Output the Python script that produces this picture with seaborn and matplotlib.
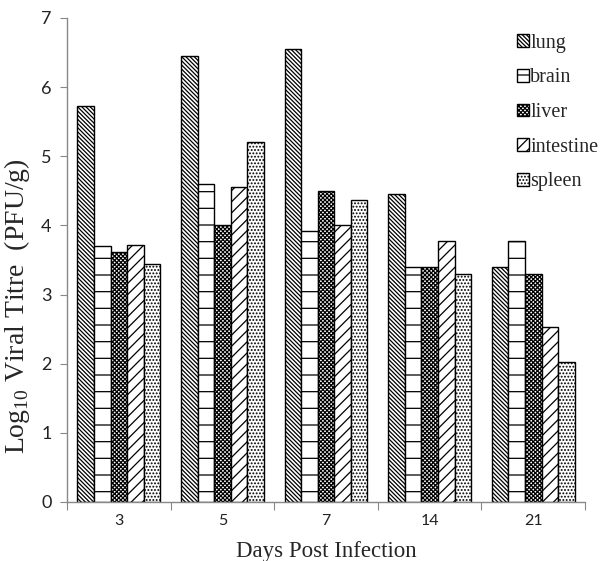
import matplotlib
matplotlib.use("Agg")
import matplotlib.pyplot as plt
from matplotlib.patches import Patch
import seaborn as sns
import pandas as pd

days = ["3", "5", "7", "14", "21"]
organs = ["lung", "brain", "liver", "intestine", "spleen"]
lung = [5.72, 6.45, 6.55, 4.45, 3.40]
brain = [3.70, 4.60, 3.92, 3.40, 3.77]
liver = [3.62, 4.00, 4.50, 3.40, 3.30]
intestine = [3.72, 4.55, 4.00, 3.77, 2.53]
spleen = [3.44, 5.20, 4.37, 3.30, 2.03]
yticks = [0, 1, 2, 3, 4, 5, 6, 7]

series = {"lung": lung, "brain": brain, "liver": liver,
          "intestine": intestine, "spleen": spleen}
rows = []
for org in organs:
    for d, v in zip(days, series[org]):
        rows.append({"day": d, "organ": org, "titre": v})
df = pd.DataFrame(rows)

sns.set_style("white")
plt.rcParams["font.family"] = ["Liberation Serif", "DejaVu Serif"]
plt.rcParams["mathtext.fontset"] = "custom"
plt.rcParams["mathtext.rm"] = "Liberation Serif"
plt.rcParams["hatch.linewidth"] = 0.9

hatches = ["\\" * 8, "-", "x" * 8, "///", "." * 5]

fig = plt.figure(figsize=(6.12, 5.61), dpi=100)
ax = fig.add_axes([0.1095, 0.1052, 0.8465, 0.8628])
sns.barplot(data=df, x="day", y="titre", hue="organ", order=days,
            hue_order=organs, ax=ax, palette=["white"] * 5,
            edgecolor="black", linewidth=1.0, width=0.8, legend=False)

for cont, h in zip(ax.containers, hatches):
    for bar in cont:
        bar.set_hatch(h)
        bar.set_edgecolor("black")
        bar.set_facecolor("white")

ax.set_xlim(-0.5, 4.5)
ax.set_ylim(0, 7)
ax.set_yticks(yticks)
ax.set_yticklabels([str(t) for t in yticks], family="Lato", fontsize=13, color="#222222")
ax.set_xticks([-0.5, 0.5, 1.5, 2.5, 3.5, 4.5])
ax.set_xticklabels([])
ax.set_xticks(range(5), minor=True)
ax.set_xticklabels(days, minor=True, family="Lato", fontsize=11.5, color="#222222")
ax.tick_params(axis="x", which="major", direction="out", length=6, color="#888888", bottom=True)
ax.tick_params(axis="x", which="minor", length=0, pad=9, bottom=True)
ax.tick_params(axis="y", direction="out", length=5, color="#888888", left=True, pad=6)

for s in ["top", "right"]:
    ax.spines[s].set_visible(False)
for s in ["left", "bottom"]:
    ax.spines[s].set_color("#888888")
    ax.spines[s].set_linewidth(1.0)

ax.set_xlabel("Days Post Infection", fontsize=16.5, labelpad=9)
ax.set_ylabel(r"Log$_{10}$ Viral Titre  (PFU/g)", fontsize=20)
ax.yaxis.set_label_coords(-0.068, 0.405)

handles = [Patch(facecolor="white", edgecolor="black", hatch=h, label=o)
           for o, h in zip(organs, hatches)]
ax.legend(handles=handles, loc="upper left", bbox_to_anchor=(0.845, 0.94),
          bbox_transform=fig.transFigure, frameon=False, fontsize=14.5,
          handlelength=0.6, handleheight=0.6, handletextpad=0.05, labelspacing=0.78,
          borderaxespad=0, borderpad=0)

fig.savefig("out.png", dpi=100)
